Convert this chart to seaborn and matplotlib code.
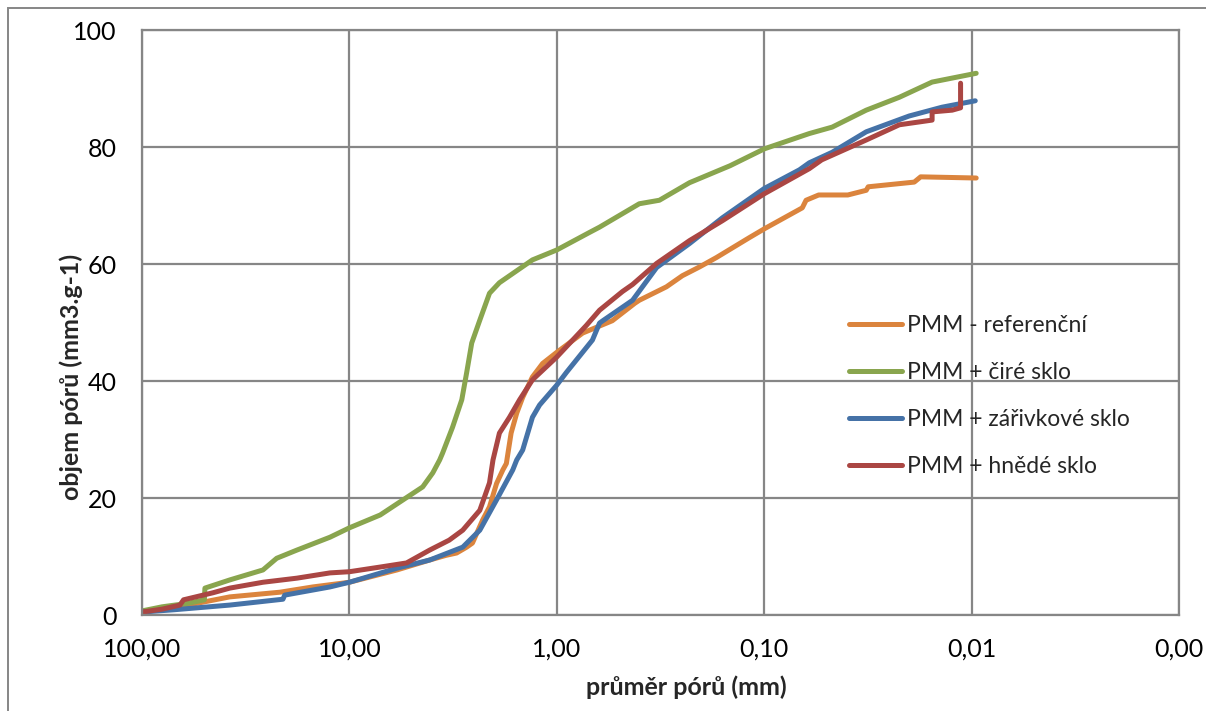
import pandas as pd
import numpy as np
import matplotlib
matplotlib.use("Agg")
import matplotlib.pyplot as plt
import seaborn as sns
from matplotlib.patches import Rectangle
from matplotlib.ticker import FixedLocator, FixedFormatter, NullLocator

# ----------------------------
# Data
# ----------------------------
series_names = ["PMM - referenční", "PMM + čiré sklo", "PMM + zářivkové sklo", "PMM + hnědé sklo"]
series_colors = ["#DB843D", "#89A54E", "#4572A7", "#AA4643"]

ref_d = [100, 70, 54.3, 37.7, 21.6, 15.0, 10, 5.9, 4.1, 3.42, 3.04, 2.72, 2.55, 2.28, 2.11,
         1.95, 1.82, 1.75, 1.66, 1.56, 1.46, 1.31, 1.17, 1.0, 0.75, 0.54, 0.42, 0.40,
         0.296, 0.248, 0.205, 0.17, 0.118, 0.1, 0.0655, 0.0628, 0.0546, 0.0395, 0.0322,
         0.0315, 0.0189, 0.0176, 0.0095]
ref_v = [0.5, 1.3, 2.0, 3.1, 3.9, 4.8, 5.6, 7.7, 9.4, 10.2, 10.6, 11.6, 12.3, 16.2, 18.5,
         22.5, 24.8, 25.9, 31.1, 34.5, 37.2, 40.7, 43.0, 44.9, 48.2, 50.3, 53.3, 53.8,
         56.1, 58.0, 59.5, 61.1, 64.5, 66.0, 69.6, 70.9, 71.8, 71.8, 72.6,
         73.2, 74.0, 74.9, 74.7]

clear_d = [100, 80, 60, 50, 49.7, 37.7, 26.1, 22.4, 17.9, 12.4, 10, 7.1, 5.5, 4.43, 3.96,
           3.67, 3.55, 3.18, 2.87, 2.72, 2.57, 2.35, 2.11, 1.89, 1.31, 1.0, 0.695, 0.622,
           0.40, 0.32, 0.229, 0.146, 0.0996, 0.0606, 0.047, 0.0322, 0.0223, 0.0155, 0.0095]
clear_v = [0.7, 1.4, 2.0, 2.6, 4.6, 6.0, 7.7, 9.7, 11.1, 13.3, 14.9, 17.1, 19.7, 21.9, 24.3,
           26.5, 27.7, 32.1, 36.8, 41.4, 46.5, 50.4, 55.0, 56.8, 60.7, 62.4, 65.4, 66.3,
           70.3, 70.9, 73.9, 76.8, 79.7, 82.3, 83.4, 86.3, 88.5, 91.1, 92.6]

fluo_d = [100, 70, 37.7, 20.9, 20.5, 12.4, 10, 5.9, 4.1, 2.84, 2.35, 1.95, 1.63, 1.56, 1.46,
          1.31, 1.21, 1.0, 0.897, 0.673, 0.622, 0.60, 0.431, 0.33, 0.229, 0.159, 0.1,
          0.0676, 0.0606, 0.047, 0.0322, 0.02, 0.0139, 0.0096]
fluo_v = [0.5, 0.9, 1.7, 2.7, 3.4, 4.8, 5.6, 8.0, 9.4, 11.6, 14.5, 19.7, 24.8, 26.5, 28.2,
          33.8, 35.9, 39.3, 41.5, 47.0, 49.9, 50.3, 53.8, 59.4, 63.5, 67.9, 72.9,
          76.1, 77.3, 79.1, 82.6, 85.3, 86.8, 87.9]

brown_d = [100, 80, 65.6, 63, 45.5, 37.7, 26.1, 17.9, 12.4, 10, 7.1, 5.3, 4.1, 3.3, 2.84,
           2.35, 2.11, 2.03, 1.89, 1.69, 1.51, 1.31, 1.0, 0.72, 0.622, 0.482, 0.431, 0.33,
           0.229, 0.159, 0.1, 0.0606, 0.0528, 0.0322, 0.0223, 0.0155, 0.0155, 0.0124,
           0.0113, 0.0113]
brown_v = [0.5, 1.0, 1.7, 2.6, 3.8, 4.6, 5.6, 6.3, 7.2, 7.4, 8.2, 8.9, 11.1, 12.8, 14.5,
           17.9, 22.6, 26.5, 31.1, 33.8, 36.8, 40.2, 44.1, 49.5, 52.1, 55.3, 56.5, 60.1,
           64.0, 67.4, 72.0, 76.3, 77.8, 81.2, 83.8, 84.6, 86.0, 86.3,
           86.7, 90.9]

x_ticks = [100, 10, 1, 0.1, 0.01, 0.001]
x_tick_labels = ["100,00", "10,00", "1,00", "0,10", "0,01", "0,00"]
y_ticks = [0, 20, 40, 60, 80, 100]

# build long table for seaborn
frames = []
for name, d, v in zip(series_names, [ref_d, clear_d, fluo_d, brown_d],
                      [ref_v, clear_v, fluo_v, brown_v]):
    frames.append(pd.DataFrame({"d": d, "v": v, "series": name}))
df = pd.concat(frames, ignore_index=True)

# ----------------------------
# Plot
# ----------------------------
sns.set_style("white")
plt.rcParams['font.family'] = ['Lato', 'DejaVu Sans']

fig = plt.figure(figsize=(12.06, 7.11), dpi=100)
ax = fig.add_axes([0.1177, 0.135, 0.9776 - 0.1177, 0.9578 - 0.135])

grid_col = "#868686"

sns.lineplot(data=df, x="d", y="v", hue="series", hue_order=series_names,
             palette=series_colors, sort=False, estimator=None, units="series",
             linewidth=3.6, ax=ax, legend=True)
for line in ax.get_lines():
    line.set_solid_capstyle("round")
    line.set_solid_joinstyle("round")

ax.set_xscale("log")
ax.set_xlim(100, 0.001)
ax.set_ylim(0, 100)

ax.xaxis.set_major_locator(FixedLocator(x_ticks))
ax.xaxis.set_major_formatter(FixedFormatter(x_tick_labels))
ax.xaxis.set_minor_locator(NullLocator())
ax.set_yticks(y_ticks)
ax.set_yticklabels([str(t) for t in y_ticks])

ax.grid(True, color=grid_col, linewidth=1.6)
ax.set_axisbelow(True)
for s in ax.spines.values():
    s.set_color(grid_col)
    s.set_linewidth(1.6)

ax.tick_params(axis="both", labelsize=18, colors=grid_col, labelcolor="black",
               width=1.4, direction="out")
ax.tick_params(axis="x", length=6, pad=10)
ax.tick_params(axis="y", length=0, pad=18)

ax.set_xlabel("průměr pórů (mm)", fontsize=18, fontweight="bold")
ax.set_ylabel("objem pórů (mm3.g-1)", fontsize=18, fontweight="bold")
ax.xaxis.set_label_coords(0.525, -0.1026)
ax.yaxis.set_label_coords(-0.0569, 0.407)

handles, labels = ax.get_legend_handles_labels()
leg = ax.legend(handles, labels, loc="upper left", bbox_to_anchor=(0.673, 0.529),
                frameon=False, fontsize=16.5, handlelength=2.3, handletextpad=0.25,
                labelspacing=1.14, borderaxespad=0)
for h in leg.get_lines():
    h.set_linewidth(3.6)
    h.set_solid_capstyle("round")

# outer chart frame
fig.patches.append(Rectangle((8 / 1206, -0.2), 1.2, 1.2 - 8 / 711, transform=fig.transFigure,
                             fill=False, edgecolor=grid_col, linewidth=1.4))

fig.savefig("out.png", dpi=100, facecolor="white")
